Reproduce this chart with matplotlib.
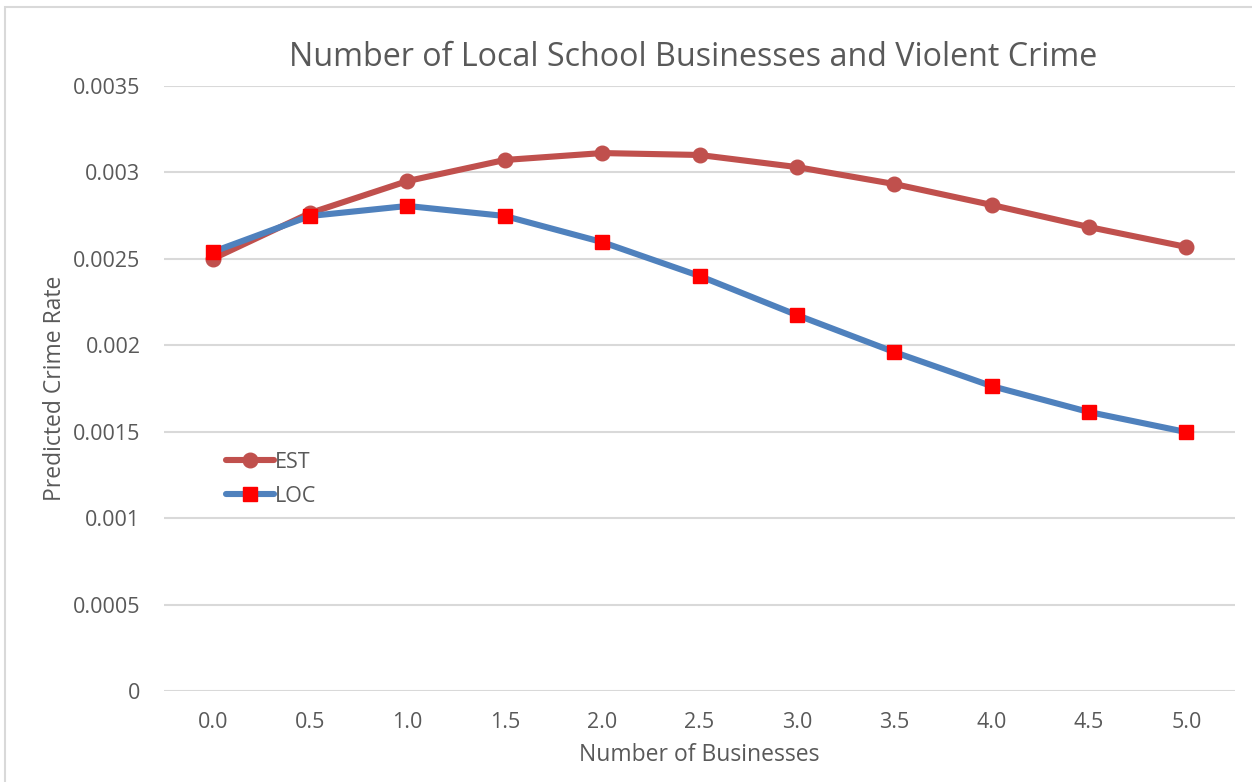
import matplotlib
matplotlib.use("Agg")
import matplotlib.pyplot as plt
from matplotlib.patches import Rectangle

categories = ["0.0", "0.5", "1.0", "1.5", "2.0", "2.5", "3.0", "3.5", "4.0", "4.5", "5.0"]
est = [0.00250, 0.002765, 0.00295, 0.003072, 0.003112, 0.003101, 0.003031,
       0.002933, 0.002812, 0.002684, 0.002569]
loc = [0.00254, 0.002748, 0.002806, 0.002748, 0.002597, 0.002401, 0.002175,
       0.001961, 0.001764, 0.001614, 0.001498]
yticks = [0, 0.0005, 0.001, 0.0015, 0.002, 0.0025, 0.003, 0.0035]
ytick_labels = ["0", "0.0005", "0.001", "0.0015", "0.002", "0.0025", "0.003", "0.0035"]

plt.rcParams['font.family'] = ['Open Sans', 'DejaVu Sans']
gray = '#595959'

fig = plt.figure(figsize=(12.52, 7.82), dpi=100)
ax = fig.add_axes([164/1252, 1-691/782, (1235-164)/1252, (691-86)/782])

# chart border
fig.patches.append(Rectangle((5/1252, -0.1), 1.2, 1-7/782+0.1, transform=fig.transFigure,
                             fill=False, edgecolor='#d9d9d9', linewidth=1.5))

x = list(range(len(categories)))
ax.plot(x, est, color='#C0504D', linewidth=4.4, marker='o', markersize=10.5,
        markerfacecolor='#C0504D', markeredgecolor='#C0504D', label='EST', zorder=3,
        solid_capstyle='round')
ax.plot(x, loc, color='#4F81BD', linewidth=4.4, marker='s', markersize=10,
        markerfacecolor='#FF0000', markeredgecolor='#FF0000', label='LOC', zorder=4,
        solid_capstyle='round')

ax.set_xlim(-0.5, len(categories) - 0.5)
ax.set_ylim(0, 0.0035)
ax.set_xticks(x)
ax.set_xticklabels(categories)
ax.set_yticks(yticks)
ax.set_yticklabels(ytick_labels)
ax.grid(axis='y', color='#d9d9d9', linewidth=1.5)
ax.set_axisbelow(True)
for s in ax.spines.values():
    s.set_visible(False)
ax.tick_params(axis='both', length=0, labelsize=15.5, colors=gray)
ax.tick_params(axis='y', pad=17)
ax.tick_params(axis='x', pad=15)

ax.set_xlabel('Number of Businesses', fontsize=16.5, color=gray, labelpad=7)
ax.set_ylabel('Predicted Crime Rate', fontsize=16.5, color=gray, labelpad=4)

fig.text(693/1252, 1-57/782, 'Number of Local School Businesses and Violent Crime',
         fontsize=23.2, color=gray, ha='center', va='center')

leg = ax.legend(loc='center left', bbox_to_anchor=(0.04, 0.35), frameon=False,
                fontsize=15.5, handlelength=2.2, handletextpad=0.05, labelspacing=0.62)
for t in leg.get_texts():
    t.set_color(gray)

fig.savefig('out.png', dpi=100, facecolor='white')
